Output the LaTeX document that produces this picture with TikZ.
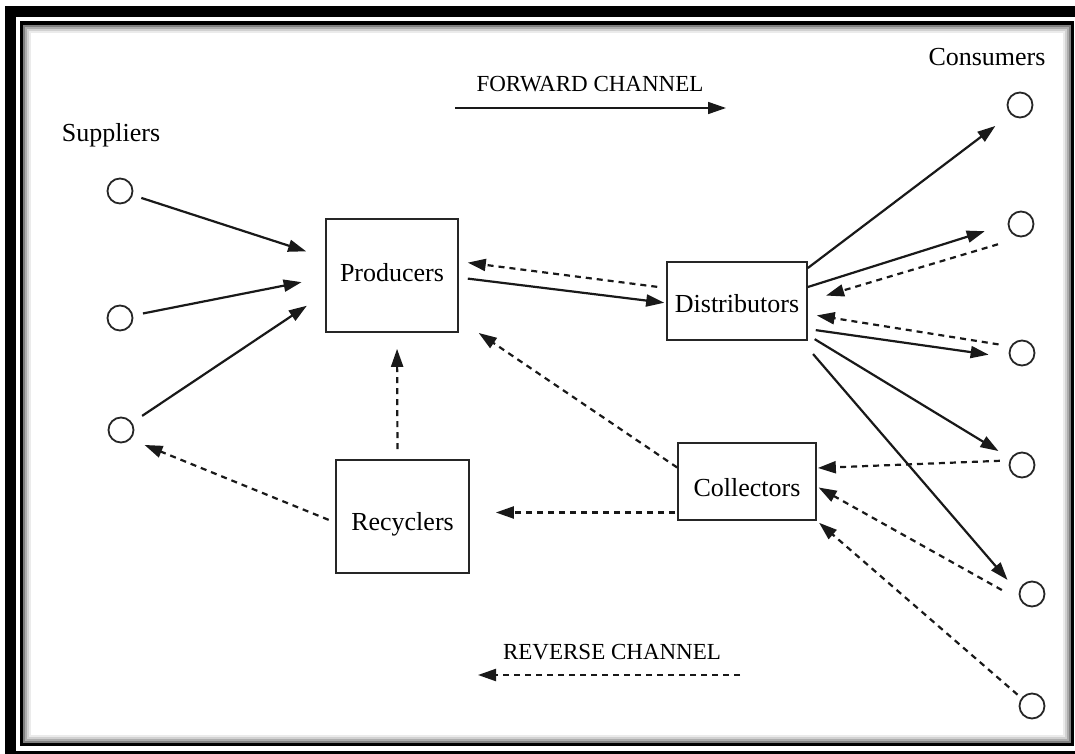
\documentclass[tikz,border=0pt]{standalone}
\usepackage{fontspec}
\setmainfont{Liberation Serif}
\usetikzlibrary{arrows.meta,calc}
% shift a label vertically without changing its box size
\newcommand{\nudge}[2]{\raisebox{#1}[\height][\depth]{#2}}
\begin{document}
\begin{tikzpicture}[x=1pt,y=-1pt,
  actor/.style={circle,draw=black!85,line width=1.8pt,minimum size=25pt,inner sep=0pt},
  stage/.style={draw=black!85,line width=1.7pt,inner sep=0pt,font=\fontsize{26}{30}\selectfont},
  lbl/.style={font=\fontsize{26}{30}\selectfont,inner sep=0pt},
  chan/.style={font=\fontsize{23}{27}\selectfont,inner sep=0pt},
  flow/.style={draw=black!90,line width=2.2pt,-{Triangle[length=18pt,width=12pt]}},
  backflow/.style={flow,dash pattern=on 6pt off 5pt},
]
\useasboundingbox (0,0) rectangle (1075,754);
\fill[white] (0,0) rectangle (1075,754);

% double frame with a soft inner shadow
\draw[black,line width=11pt] (10.5,11.5) rectangle (1090,756);
\draw[black,line width=3.5pt] (21.5,23) rectangle (1072.5,744.5);
\foreach \d/\g in {1/50,3/32,5/18,7/8}
  \draw[black!\g,line width=2pt] (23.25+\d,24.75+\d) rectangle (1070.75-\d,742.75-\d);

% group labels
\node[lbl] (suplbl) at (111,135) {Suppliers};
\node[lbl] (conlbl) at (987,57) {Consumers};

% suppliers
\node[actor] (s1) at (120,191) {};
\node[actor] (s2) at (120,318) {};
\node[actor] (s3) at (121,430) {};

% consumers
\node[actor] (c1) at (1020,105) {};
\node[actor] (c2) at (1021,224) {};
\node[actor] (c3) at (1022,353) {};
\node[actor] (c4) at (1022,465) {};
\node[actor] (c5) at (1032,594) {};
\node[actor] (c6) at (1032,706) {};

% stages of the chain
\node[stage,minimum width=132pt,minimum height=113pt] (prod) at (392,275.5) {\nudge{3pt}{Producers}};
\node[stage,minimum width=140pt,minimum height=78pt] (dist) at (737,301) {\nudge{-3pt}{Distributors}};
\node[stage,minimum width=138pt,minimum height=77pt] (coll) at (747,481.5) {\nudge{-6pt}{Collectors}};
\node[stage,minimum width=133pt,minimum height=113pt] (recy) at (402.5,516.5) {\nudge{-8pt}{Recyclers}};

% forward flows
\draw[flow,shorten <=9pt,shorten >=20pt] (s1) -- ([yshift=18pt]prod.west);
\draw[flow,shorten <=10pt,shorten >=24pt] (s2) -- ([yshift=-2pt]prod.west);
\draw[flow,shorten <=12pt,shorten >=22pt] (s3) -- ([yshift=-18pt]prod.west);
\draw[flow,shorten <=9pt,shorten >=2pt] ([yshift=-2pt]prod.east) -- ([yshift=-2pt]dist.west);
\draw[flow,shorten >=19pt] ([yshift=33pt]dist.east) -- (c1.south west);
\draw[flow,shorten >=24pt] ([yshift=14pt]dist.east) -- (c2.west);
\draw[flow,shorten <=8pt,shorten >=21pt] ([yshift=-28pt]dist.east) -- (c3.200);
\draw[flow,shorten <=8pt,shorten >=14pt] ([yshift=-34pt]dist.east) -- (c4.150);
\draw[flow,shorten <=8pt,shorten >=17pt] ([yshift=-47pt]dist.east) -- (c5.175);

% reverse flows
\draw[backflow,shorten <=9pt,shorten >=9pt] ([yshift=13pt]dist.west) -- ([yshift=14pt]prod.east);
\draw[backflow,shorten <=24pt,shorten >=19pt] (c2.south) -- (dist.east);
\draw[backflow,shorten <=12pt,shorten >=9pt] (c3.150) -- ([yshift=-13pt]dist.east);
\draw[backflow,shorten <=9.5pt,shorten >=1pt] (c4.160) -- ([yshift=13.5pt]coll.east);
\draw[backflow,shorten <=21pt,shorten >=2pt] (c5.208) -- ([yshift=-5pt]coll.east);
\draw[backflow,shorten <=5pt,shorten >=3pt] (c6.143) -- (coll.south east);
\draw[backflow,shorten >=24pt] ([yshift=14pt]coll.west) -- ([yshift=-44pt]prod.east);
\draw[backflow,shorten <=2pt,shorten >=26pt] ([yshift=-31pt]coll.west) -- ([yshift=4pt]recy.east);
\draw[backflow,shorten <=10pt,shorten >=16pt] ([xshift=-5pt]recy.north) -- ([xshift=5pt]prod.south);
\draw[backflow,shorten <=7pt,shorten >=15pt] ([yshift=-6pt]recy.west) -- (s3.-44);

% channel legends
\node[chan] (fwdtxt) at (590,84) {FORWARD CHANNEL};
\coordinate (fa) at (455,108);
\coordinate (fb) at (726,108);
\draw[flow,line width=1.6pt] (fa) -- (fb);
\node[chan] (revtxt) at (612,652) {REVERSE CHANNEL};
\coordinate (ra) at (740,675);
\coordinate (rb) at (478,675);
\draw[backflow] (ra) -- (rb);
\end{tikzpicture}
\end{document}
